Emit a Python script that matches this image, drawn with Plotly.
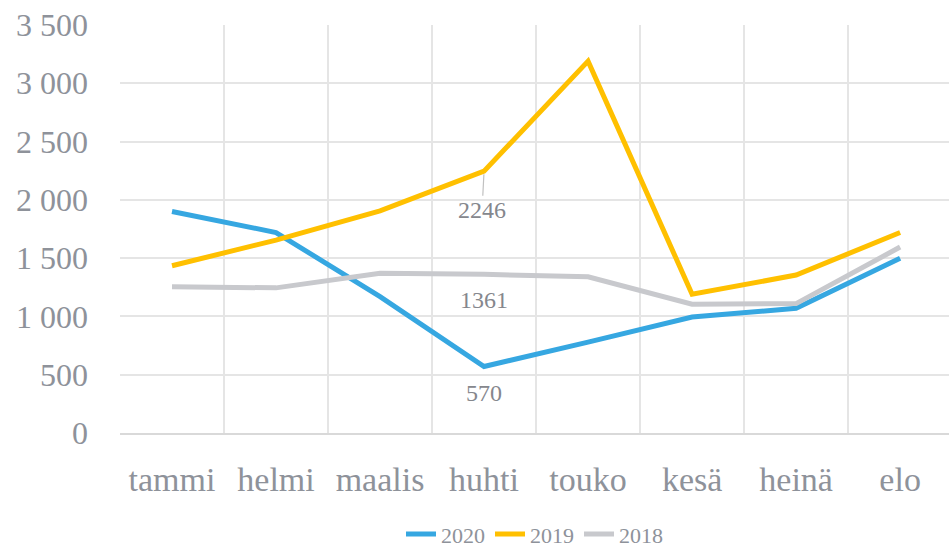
import plotly.graph_objects as go

months = ["tammi", "helmi", "maalis", "huhti", "touko", "kesä", "heinä", "elo"]
s2020 = [1900, 1720, 1170, 570, 780, 995, 1070, 1500]
s2019 = [1435, 1655, 1905, 2246, 3190, 1190, 1355, 1720]
s2018 = [1255, 1245, 1370, 1361, 1340, 1105, 1110, 1595]
y_ticks = [0, 500, 1000, 1500, 2000, 2500, 3000, 3500]

FONT = "Palatino Linotype, Book Antiqua, Palatino, Liberation Serif, serif"
TXT = "#8e929a"

fig = go.Figure()
series = [("2020", s2020, "#36a7e1"), ("2019", s2019, "#ffc000"), ("2018", s2018, "#c8c9cd")]
for name, vals, col in series:
    fig.add_trace(go.Scatter(x=months, y=vals, name=name, mode="lines",
                             line=dict(color=col, width=5)))

# data labels for huhti
idx = months.index("huhti")
lab_font = dict(family=FONT, size=24, color="#85878d")
fig.add_annotation(x=months[idx], y=s2019[idx], text=str(s2019[idx]), showarrow=True,
                   arrowhead=0, arrowwidth=1.2, arrowcolor="#c0c0c0",
                   ax=-2, ay=39, standoff=3, font=lab_font)
for vals in (s2018, s2020):
    fig.add_annotation(x=months[idx], y=vals[idx], text=str(vals[idx]), showarrow=False,
                       yshift=-26, font=lab_font)

fig.update_layout(
    width=949, height=549,
    margin=dict(l=120, r=0, t=25, b=116, autoexpand=False),
    paper_bgcolor="white", plot_bgcolor="white",
    separators=", ",
    font=dict(family=FONT, color=TXT),
    showlegend=True,
    legend=dict(orientation="h", x=0.5, xanchor="center", y=-0.248, yanchor="middle",
                font=dict(family=FONT, size=22, color=TXT), itemwidth=30,
                tracegroupgap=0, traceorder="normal"),
    xaxis=dict(type="category", range=[-0.5, 7.47], tickson="boundaries",
               showgrid=True, gridcolor="#e5e5e5", gridwidth=1.5,
               showline=True, linecolor="#d9d9d9", linewidth=2,
               ticks="", tickfont=dict(family=FONT, size=34, color=TXT),
               ticklabelstandoff=15, automargin=False),
    yaxis=dict(range=[0, 3500], tickvals=y_ticks, tickformat=",d",
               showgrid=True, gridcolor="#e5e5e5", gridwidth=1.5,
               zeroline=False, showline=False, ticks="",
               tickfont=dict(family=FONT, size=32, color=TXT),
               ticklabelstandoff=31, automargin=False),
)

fig.write_html("out.html", config={"displayModeBar": False},
               post_script="document.body.style.margin='0';")
